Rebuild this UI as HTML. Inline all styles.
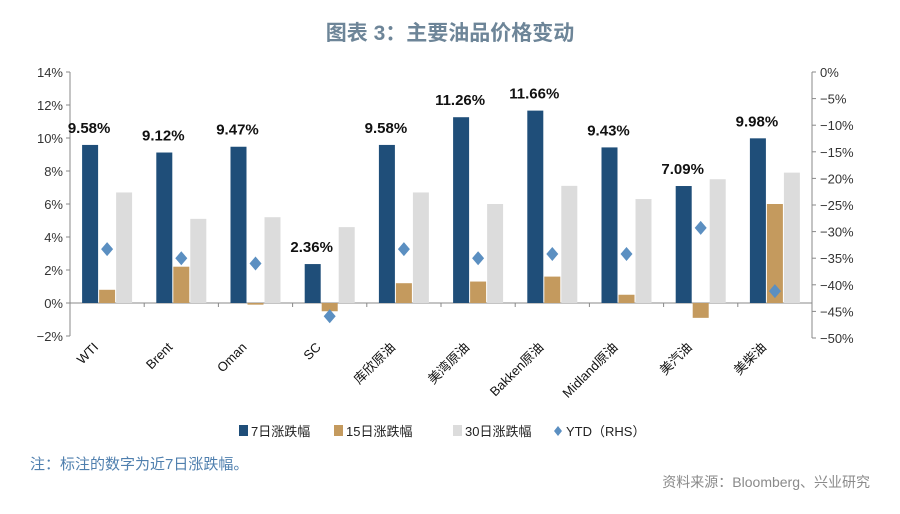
<!DOCTYPE html>
<html><head><meta charset="utf-8"><style>
body{margin:0;background:#fff;width:900px;height:509px;overflow:hidden;font-family:"Liberation Sans","Noto Sans CJK SC",sans-serif}
</style></head><body>
<svg width="900" height="509" xmlns="http://www.w3.org/2000/svg">
<text x="450" y="40" text-anchor="middle" font-size="21" font-weight="bold" fill="#6d8598" font-family="Liberation Sans, Noto Sans CJK SC, sans-serif">图表 3：主要油品价格变动</text>
<g id="plot"></g>
<text x="30" y="469" font-size="15" fill="#4f7fae" font-family="Liberation Sans, Noto Sans CJK SC, sans-serif">注：标注的数字为近7日涨跌幅。</text>
<text x="870" y="487" text-anchor="end" font-size="14" fill="#8a8a8a" font-family="Liberation Sans, Noto Sans CJK SC, sans-serif">资料来源：Bloomberg、兴业研究</text>
</svg>
<script>
const categories=["WTI","Brent","Oman","SC","库欣原油","美湾原油","Bakken原油","Midland原油","美汽油","美柴油"];
const s7=[9.58,9.12,9.47,2.36,9.58,11.26,11.66,9.43,7.09,9.98];
const s15=[0.8,2.2,-0.1,-0.5,1.2,1.3,1.6,0.5,-0.9,6.0];
const s30=[6.7,5.1,5.2,4.6,6.7,6.0,7.1,6.3,7.5,7.9];
const ytd=[-33.3,-35,-36,-45.9,-33.3,-35,-34.2,-34.2,-29.3,-41.2];
const leftTicks=[-2,0,2,4,6,8,10,12,14];
const rightTicks=[0,-5,-10,-15,-20,-25,-30,-35,-40,-45,-50];
const NS="http://www.w3.org/2000/svg";
const g=document.getElementById('plot');
const X0=70,X1=812,n=categories.length,gw=(X1-X0)/n;
const yL=v=>303-v*16.5;
const yR=v=>72+(-v)*5.32;
function mk(t,a,p){const e=document.createElementNS(NS,t);for(const k in a)e.setAttribute(k,a[k]);(p||g).appendChild(e);return e;}
let e=mk('line',{x1:X0,y1:yL(14),x2:X0,y2:yL(-2),stroke:'#888'});


e=mk('line',{x1:X1,y1:yR(0),x2:X1,y2:yR(-50),stroke:'#888'});


e=mk('line',{x1:X0,y1:yL(0),x2:X1,y2:yL(0),stroke:'#888'});


leftTicks.forEach(v=>{
 mk('line',{x1:X0-4,y1:yL(v),x2:X0,y2:yL(v),stroke:'#888'});
 const t=mk('text',{x:X0-7,y:yL(v)+5,'text-anchor':'end','font-size':13,fill:'#333'});t.textContent=(v<0?'−':'')+Math.abs(v)+'%';
 
 
});
rightTicks.forEach(v=>{
 mk('line',{x1:X1,y1:yR(v),x2:X1+4,y2:yR(v),stroke:'#888'});
 const t=mk('text',{x:X1+8,y:yR(v)+5,'font-size':13,fill:'#333'});t.textContent=(v<0?'−':'')+Math.abs(v)+'%';
 
 
});
for(let i=0;i<=n;i++)mk('line',{x1:X0+i*gw,y1:yL(0),x2:X0+i*gw,y2:yL(0)+4,stroke:'#888'});
function bar(cx,v,col,name){const y0=yL(0),y1=yL(v);const r=mk('rect',{x:cx-8,y:Math.min(y0,y1),width:16,height:Math.abs(y0-y1),fill:col});
 
 }
categories.forEach((c,i)=>{
 const cx=X0+gw*(i+0.5);
 bar(cx-17,s7[i],'#1f4e79','bar-7d');
 bar(cx,s15[i],'#c49a5e','bar-15d');
 bar(cx+17,s30[i],'#dcdcdc','bar-30d');
 const yy=yR(ytd[i]);
 const d=mk('polygon',{points:`${cx},${yy-7} ${cx+6},${yy} ${cx},${yy+7} ${cx-6},${yy}`,fill:'#5b8fc1'});
 
 
 const lb=mk('text',{x:cx-18,y:yL(s7[i])-12,'text-anchor':'middle','font-size':15,'font-weight':'bold',fill:'#111'});lb.textContent=s7[i].toFixed(2)+'%';
 
 
 const ct=mk('text',{x:0,y:0,'text-anchor':'end','font-size':13,fill:'#111',transform:`translate(${cx-8},${348}) rotate(-45)`});ct.textContent=c;
 
 
});
const leg=[['7日涨跌幅','#1f4e79','rect'],['15日涨跌幅','#c49a5e','rect'],['30日涨跌幅','#dcdcdc','rect'],['YTD（RHS）','#5b8fc1','dia']];
const lx=[243,338,457,558];
leg.forEach((l,i)=>{
 const x=lx[i];
 if(l[2]=='rect')mk('rect',{x:x-4,y:425,width:9,height:11,fill:l[1]});
 else mk('polygon',{points:`${x},${426} ${x+4},${431} ${x},${436} ${x-4},${431}`,fill:l[1]});
 const t=mk('text',{x:x+8,y:436,'font-size':13,fill:'#222'});t.textContent=l[0];
 
 
});
</script>
</body></html>
